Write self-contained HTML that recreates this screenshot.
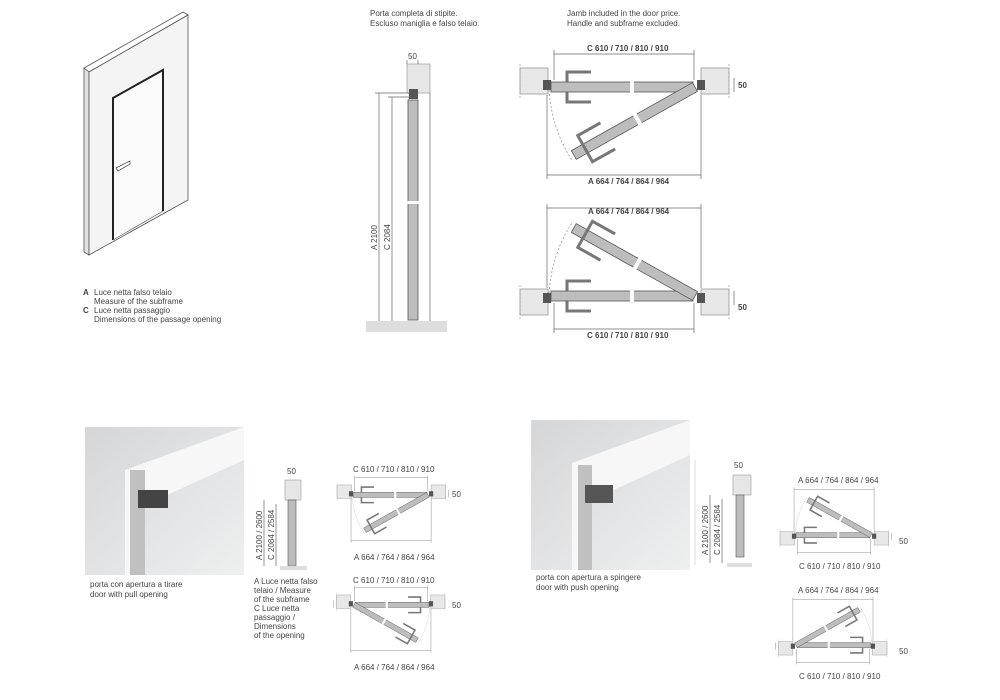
<!DOCTYPE html>
<html><head><meta charset="utf-8"><style>
html,body{margin:0;padding:0;background:#fff;}
svg{display:block;font-family:"Liberation Sans Narrow","Liberation Sans",sans-serif;}
.t{font-size:8px;fill:#444;}
.d{stroke:#666;stroke-width:0.7;fill:none;}
</style></head><body>
<svg width="1000" height="700" viewBox="0 0 1000 700" xmlns="http://www.w3.org/2000/svg">
<defs>
<g id="plan">
  <rect x="520" y="68" width="28" height="26" fill="#e8e8e8" stroke="#999" stroke-width="0.8"/>
  <rect x="701" y="68" width="28" height="26" fill="#e8e8e8" stroke="#999" stroke-width="0.8"/>
  <line x1="520" y1="64" x2="520" y2="98" stroke="#999" stroke-width="0.7" stroke-dasharray="2,2"/>
  <line x1="729" y1="64" x2="729" y2="98" stroke="#999" stroke-width="0.7" stroke-dasharray="2,2"/>
  <rect x="543" y="80" width="8" height="10" fill="#555"/>
  <rect x="697" y="80" width="8" height="10" fill="#555"/>
  <path d="M591,72 L567,72 L567,102 L591,102" fill="none" stroke="#777" stroke-width="3"/>
  <rect x="551" y="82" width="142" height="10" fill="#bdbdbd" stroke="#555" stroke-width="0.8"/>
  <rect x="630" y="80" width="4" height="14" fill="#fff"/>
  <g transform="translate(695,87) rotate(150.7)">
    <rect x="0" y="-5" width="139" height="10" fill="#bdbdbd" stroke="#555" stroke-width="0.8"/>
    <path d="M100,-15 L126,-15 L126,15 L100,15" fill="none" stroke="#777" stroke-width="3"/>
    <rect x="64" y="-7" width="4" height="14" fill="#fff"/>
  </g>
  <path d="M549,90 Q552,130 572,160" fill="none" stroke="#888" stroke-width="0.7" stroke-dasharray="2,2"/>
  <line class="d" x1="554" y1="54" x2="694" y2="54"/>
  <line class="d" x1="554" y1="50" x2="554" y2="80"/>
  <line class="d" x1="694" y1="50" x2="694" y2="80"/>
  <line class="d" x1="547" y1="175" x2="701" y2="175"/>
  <line class="d" x1="547" y1="95" x2="547" y2="179"/>
  <line class="d" x1="701" y1="95" x2="701" y2="179"/>
  <line class="d" x1="734" y1="78" x2="734" y2="92"/>
</g>
<g id="sec">
  <rect x="366" y="321" width="81" height="11" fill="#ddd"/>
  <rect x="407" y="64" width="23" height="29" fill="#e6e6e6" stroke="#999" stroke-width="0.7"/>
  <rect x="409" y="89" width="9" height="10" fill="#555"/>
  <rect x="408" y="100" width="10" height="220" fill="#bdbdbd" stroke="#555" stroke-width="0.8"/>
  <rect x="404" y="201" width="18" height="3" fill="#fff"/>
  <line class="d" x1="379" y1="93" x2="379" y2="321"/>
  <line class="d" x1="392" y1="97" x2="392" y2="321"/>
  <line class="d" x1="375" y1="93" x2="410" y2="93"/>
  <line class="d" x1="388" y1="97" x2="410" y2="97"/>
  <line class="d" x1="430" y1="93" x2="430" y2="321"/>
  <line class="d" x1="407" y1="60" x2="407" y2="64"/>
  <line class="d" x1="418" y1="60" x2="418" y2="64"/>
</g>
<linearGradient id="ph" x1="0" y1="0" x2="1" y2="1"><stop offset="0" stop-color="#d4d6d8"/><stop offset="1" stop-color="#eef0f0"/></linearGradient>
</defs>

<polygon points="84,68 183,12 188,15 89,72" fill="#fff" stroke="#555" stroke-width="0.8"/>
<polygon points="84,68 89,72 89,255 84,252" fill="#e4e4e4" stroke="#555" stroke-width="0.8"/>
<polygon points="89,72 188,15 188,200 89,255" fill="#f4f4f4" stroke="#555" stroke-width="0.8"/>
<polyline points="113,240 113,98 163,70 163,211" fill="#fafafa" stroke="#222" stroke-width="2"/>
<line x1="113" y1="240" x2="163" y2="211" stroke="#555" stroke-width="0.6"/>
<polygon points="116,168 130,161 130,164 118,171" fill="#fff" stroke="#444" stroke-width="0.7"/>

<text class="t" x="83" y="295" font-weight="bold">A</text><text class="t" x="94" y="295">Luce netta falso telaio</text>
<text class="t" x="94" y="304">Measure of the subframe</text>
<text class="t" x="83" y="313" font-weight="bold">C</text><text class="t" x="94" y="313">Luce netta passaggio</text>
<text class="t" x="94" y="322">Dimensions of the passage opening</text>

<text class="t" x="370" y="16">Porta completa di stipite.</text>
<text class="t" x="370" y="26">Escluso maniglia e falso telaio.</text>
<use href="#sec"/>
<text class="t" x="408" y="59">50</text>
<text class="t" transform="translate(377,250) rotate(-90)">A  2100</text>
<text class="t" transform="translate(390,250) rotate(-90)">C  2084</text>

<text class="t" x="567" y="16">Jamb included in the door price.</text>
<text class="t" x="567" y="26">Handle and subframe excluded.</text>
<use href="#plan"/>
<text class="t" x="587" y="51" font-weight="bold">C  610 / 710 / 810 / 910</text>
<text class="t" x="588" y="184" font-weight="bold">A  664 / 764 / 864 / 964</text>
<text class="t" x="738" y="88" font-weight="bold">50</text>
<use href="#plan" transform="translate(0,383) scale(1,-1)"/>
<text class="t" x="588" y="214" font-weight="bold">A  664 / 764 / 864 / 964</text>
<text class="t" x="587" y="338" font-weight="bold">C  610 / 710 / 810 / 910</text>
<text class="t" x="738" y="310" font-weight="bold">50</text>

<rect x="85" y="427" width="159" height="148" fill="url(#ph)"/>
<polygon points="125,470 244,427 244,460 145,505 140,575 125,575" fill="#f7f7f7"/>
<rect x="130" y="470" width="15" height="105" fill="#c0c0c0"/>
<rect x="138" y="490" width="30" height="18" fill="#444"/>
<text class="t" x="90" y="587">porta con apertura a tirare</text>
<text class="t" x="90" y="597">door with pull opening</text>
<rect x="285" y="480" width="16" height="20" fill="#e6e6e6" stroke="#999" stroke-width="0.6"/>
<rect x="288" y="500" width="8" height="66" fill="#bdbdbd" stroke="#555" stroke-width="0.6"/>
<rect x="280" y="566" width="27" height="4" fill="#ddd"/>
<line class="d" x1="264" y1="500" x2="264" y2="566"/><line class="d" x1="276" y1="504" x2="276" y2="566"/>
<text class="t" x="287" y="474">50</text>
<text class="t" transform="translate(262,560) rotate(-90)">A  2100 / 2600</text>
<text class="t" transform="translate(274,560) rotate(-90)">C  2084 / 2584</text>
<text class="t" x="254" y="584">A  Luce netta falso</text>
<text class="t" x="254" y="593">telaio / Measure</text>
<text class="t" x="254" y="602">of the subframe</text>
<text class="t" x="254" y="611">C  Luce netta</text>
<text class="t" x="254" y="620">passaggio /</text>
<text class="t" x="254" y="629">Dimensions</text>
<text class="t" x="254" y="638">of the opening</text>
<use href="#plan" transform="translate(66.6,449.6) scale(0.52)"/>
<text class="t" x="353" y="472">C  610 / 710 / 810 / 910</text>
<text class="t" x="354" y="560">A  664 / 764 / 864 / 964</text>
<text class="t" x="452" y="497">50</text>
<use href="#plan" transform="translate(715.4,559.6) scale(-0.52,0.52)"/>
<text class="t" x="353" y="583">C  610 / 710 / 810 / 910</text>
<text class="t" x="354" y="670">A  664 / 764 / 864 / 964</text>
<text class="t" x="452" y="608">50</text>

<rect x="531" y="420" width="159" height="150" fill="url(#ph)"/>
<polygon points="572,463 690,420 690,455 592,500 588,570 572,570" fill="#f7f7f7"/>
<rect x="578" y="465" width="14" height="105" fill="#c0c0c0"/>
<rect x="585" y="485" width="28" height="18" fill="#555"/>
<text class="t" x="536" y="580">porta con apertura a spingere</text>
<text class="t" x="536" y="590">door with push opening</text>
<rect x="733" y="475" width="18" height="20" fill="#e6e6e6" stroke="#999" stroke-width="0.6"/>
<rect x="736" y="495" width="8" height="62" fill="#bdbdbd" stroke="#555" stroke-width="0.6"/>
<rect x="727" y="563" width="25" height="4" fill="#ddd"/>
<line class="d" x1="710" y1="495" x2="710" y2="563"/><line class="d" x1="722" y1="499" x2="722" y2="563"/>
<line x1="695" y1="460" x2="695" y2="565" stroke="#ccc" stroke-width="0.7"/>
<text class="t" x="734" y="468">50</text>
<text class="t" transform="translate(708,555) rotate(-90)">A  2100 / 2600</text>
<text class="t" transform="translate(720,555) rotate(-90)">C  2084 / 2584</text>
<use href="#plan" transform="translate(509.6,580.4) scale(0.52,-0.52)"/>
<text class="t" x="798" y="483">A  664 / 764 / 864 / 964</text>
<text class="t" x="799" y="569">C  610 / 710 / 810 / 910</text>
<text class="t" x="899" y="544">50</text>
<use href="#plan" transform="translate(1157.4,690.4) scale(-0.52,-0.52)"/>
<text class="t" x="798" y="593">A  664 / 764 / 864 / 964</text>
<text class="t" x="799" y="679">C  610 / 710 / 810 / 910</text>
<text class="t" x="899" y="654">50</text>
</svg>
</body></html>
